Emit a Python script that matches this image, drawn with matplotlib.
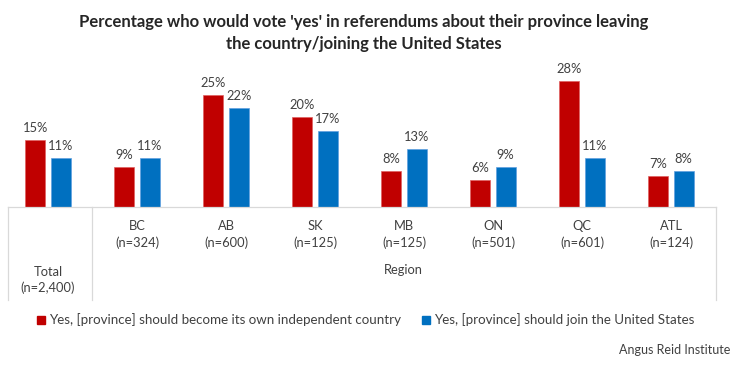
import matplotlib as mpl
mpl.use('Agg')
import matplotlib.pyplot as plt
from matplotlib.lines import Line2D
from matplotlib.patches import Rectangle
import matplotlib.transforms as mtransforms
import numpy as np

# data
regions = ['Total', 'BC', 'AB', 'SK', 'MB', 'ON', 'QC', 'ATL']
sizes = ['(n=2,400)', '(n=324)', '(n=600)', '(n=125)', '(n=125)', '(n=501)', '(n=601)', '(n=124)']
own_country = [15, 9, 25, 20, 8, 6, 28, 7]
join_us = [11, 11, 22, 17, 13, 9, 11, 8]
series_names = ['Yes, [province] should become its own independent country',
                'Yes, [province] should join the United States']

RED = '#C00000'
BLUE = '#0070C0'
TXT = '#404040'
GRID = '#D9D9D9'

plt.rcParams['font.family'] = ['Lato', 'DejaVu Sans']

W, H = 738, 366
fig = plt.figure(figsize=(W / 100, H / 100), dpi=100)

def fx(px):
    return px / W

def fy(py):
    return 1 - py / H

# axes: x from pixel 3.5 to 715.5, baseline at 207, top at 72
ax = fig.add_axes([fx(3.5), fy(207), fx(712), (207 - 72) / H])
ax.set_xlim(-0.5, 7.5)
ax.set_ylim(0, 30)
ax.axis('off')

x = np.arange(len(regions))
off = 0.142
bw = 0.222
ax.bar(x - off, own_country, bw, color=RED, edgecolor='#E06060', linewidth=0.5)
ax.bar(x + off, join_us, bw, color=BLUE, edgecolor='#60A0E0', linewidth=0.5)

for xi, v in zip(x, own_country):
    ax.annotate(f'{v}%', (xi - off, v), xytext=(0, 4), textcoords='offset points',
                ha='center', va='bottom', fontsize=9.3, color=TXT)
for xi, v in zip(x, join_us):
    ax.annotate(f'{v}%', (xi + off, v), xytext=(0, 4), textcoords='offset points',
                ha='center', va='bottom', fontsize=9.3, color=TXT)

# category table
trans = mtransforms.blended_transform_factory(ax.transData, fig.transFigure)
for i, (r, n) in enumerate(zip(regions, sizes)):
    if i == 0:
        ax.text(i, fy(272), r, transform=trans, ha='center', va='center', fontsize=9.3, color=TXT)
        ax.text(i, fy(288), n, transform=trans, ha='center', va='center', fontsize=9.3, color=TXT)
    else:
        ax.text(i, fy(226), r, transform=trans, ha='center', va='center', fontsize=9.3, color=TXT)
        ax.text(i, fy(243), n, transform=trans, ha='center', va='center', fontsize=9.3, color=TXT)
fig.text(fx(403.5), fy(270), 'Region', ha='center', va='center', fontsize=9.3, color=TXT)

for (x0, y0, x1, y1) in [(8, 207, 716, 207), (8, 207, 8, 300), (91.5, 207, 91.5, 300),
                         (716, 207, 716, 300)]:
    fig.add_artist(Line2D([fx(x0), fx(x1)], [fy(y0), fy(y1)], color=GRID, lw=0.9,
                          transform=fig.transFigure))

# title
fig.text(fx(364), fy(22), "Percentage who would vote 'yes' in referendums about their province leaving",
         ha='center', va='center', fontsize=12, fontweight='bold', color='#262626')
fig.text(fx(364), fy(44), "the country/joining the United States",
         ha='center', va='center', fontsize=12, fontweight='bold', color='#262626')

# legend
handles = [Rectangle((0, 0), 1, 1, color=RED), Rectangle((0, 0), 1, 1, color=BLUE)]
fig.legend(handles, series_names, loc='center', bbox_to_anchor=(fx(366), fy(320)), ncol=2,
           frameon=False, fontsize=9.6, handlelength=0.6, handleheight=0.6, handletextpad=0.3,
           columnspacing=1.6, labelcolor=TXT)

fig.text(fx(730), fy(350), 'Angus Reid Institute', ha='right', va='center', fontsize=9, color='#404040')

fig.savefig('out.png', dpi=100)
